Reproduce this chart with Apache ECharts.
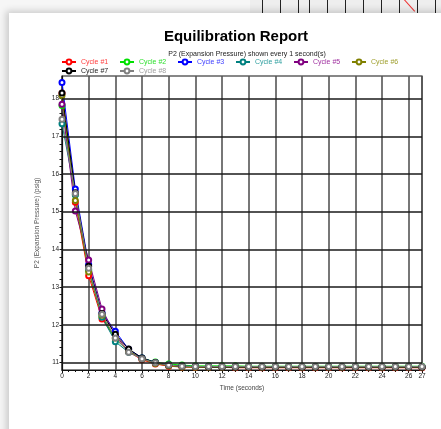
<!DOCTYPE html>
<html>
<head>
<meta charset="utf-8">
<script src="https://cdn.jsdelivr.net/npm/echarts@6/dist/echarts.min.js"></script>
<style>
  html, body { margin: 0; padding: 0; width: 441px; height: 429px; overflow: hidden; background: #f6f6f6; }
  .behind {
    position: absolute; left: 250px; top: 0; width: 191px; height: 14px;
    background-image: repeating-linear-gradient(90deg, #222 0, #222 1px, transparent 1px, transparent 18px);
    background-position: 59px 0;
    background-color: #eeeeee;
  }
  .redline { position: absolute; left: 403px; top: -1px; width: 1px; height: 17px; background: #e33; transform: rotate(-42deg); transform-origin: top left; }
  .panel {
    position: absolute; left: 9px; top: 13px; width: 440px; height: 430px;
    background: #fff; box-shadow: -3px -2px 7px rgba(0,0,0,0.18);
  }
  #chart { position: absolute; left: 0; top: 0; width: 441px; height: 429px; }
</style>
</head>
<body>
<div class="behind"></div>
<div class="redline"></div>
<div class="panel"></div>
<div id="chart"></div>
<script>
// time (s) of each sample
var times = [0, 1, 2, 3, 4, 5, 6, 7, 8, 9, 10, 11, 12, 13, 14, 15, 16, 17, 18, 19, 20, 21, 22, 23, 24, 25, 26, 27];

var cycleNames = ["Cycle #1", "Cycle #2", "Cycle #3", "Cycle #4", "Cycle #5", "Cycle #6", "Cycle #7", "Cycle #8"];
var cycleColors = ["#ff0000", "#00e000", "#0000ff", "#008080", "#800080", "#808000", "#000000", "#808080"];
var legendTextColors = ["#ff4040", "#30e030", "#4040ff", "#30a0a0", "#a030a0", "#a0a030", "#222222", "#a0a0a0"];

// P2 pressure per cycle (psig)
var cycle1 = [18.14, 15.25, 13.30, 12.15, 11.65, 11.28, 11.07, 10.96, 10.90, 10.88, 10.87, 10.87, 10.87, 10.86, 10.86, 10.86, 10.86, 10.86, 10.86, 10.86, 10.86, 10.86, 10.86, 10.86, 10.86, 10.86, 10.86, 10.86];
var cycle2 = [17.82, 15.45, 13.45, 12.22, 11.62, 11.30, 11.12, 11.01, 10.96, 10.93, 10.91, 10.91, 10.91, 10.91, 10.90, 10.90, 10.90, 10.90, 10.90, 10.90, 10.90, 10.90, 10.90, 10.90, 10.90, 10.90, 10.90, 10.90];
var cycle3 = [18.43, 15.60, 13.60, 12.32, 11.83, 11.35, 11.12, 11.00, 10.93, 10.90, 10.89, 10.89, 10.88, 10.88, 10.88, 10.88, 10.88, 10.88, 10.88, 10.88, 10.88, 10.88, 10.88, 10.88, 10.88, 10.88, 10.88, 10.88];
var cycle4 = [17.33, 15.45, 13.45, 12.20, 11.55, 11.27, 11.10, 10.99, 10.93, 10.90, 10.89, 10.88, 10.88, 10.88, 10.88, 10.88, 10.88, 10.88, 10.88, 10.88, 10.88, 10.88, 10.88, 10.88, 10.88, 10.88, 10.88, 10.88];
var cycle5 = [17.85, 15.02, 13.72, 12.42, 11.72, 11.30, 11.10, 10.98, 10.92, 10.89, 10.88, 10.88, 10.88, 10.88, 10.88, 10.88, 10.88, 10.88, 10.88, 10.88, 10.88, 10.88, 10.88, 10.88, 10.88, 10.88, 10.87, 10.87];
var cycle6 = [18.08, 15.30, 13.40, 12.25, 11.65, 11.30, 11.09, 10.97, 10.91, 10.88, 10.87, 10.87, 10.87, 10.87, 10.87, 10.87, 10.87, 10.87, 10.87, 10.87, 10.87, 10.87, 10.87, 10.87, 10.87, 10.87, 10.87, 10.87];
var cycle7 = [18.15, 15.50, 13.55, 12.30, 11.75, 11.36, 11.12, 11.00, 10.93, 10.90, 10.89, 10.88, 10.88, 10.88, 10.88, 10.88, 10.88, 10.88, 10.88, 10.88, 10.88, 10.88, 10.88, 10.88, 10.88, 10.88, 10.88, 10.88];
var cycle8 = [17.45, 15.48, 13.50, 12.28, 11.65, 11.27, 11.10, 10.99, 10.93, 10.90, 10.89, 10.89, 10.89, 10.89, 10.89, 10.89, 10.89, 10.89, 10.89, 10.89, 10.89, 10.89, 10.89, 10.89, 10.89, 10.89, 10.89, 10.89];

// major horizontal grid lines
var yGridValues = [11, 12, 13, 14, 15, 16, 17, 18];

var allCycles = [cycle1, cycle2, cycle3, cycle4, cycle5, cycle6, cycle7, cycle8];

var chart = echarts.init(document.getElementById("chart"));

var series = allCycles.map(function (vals, i) {
  return {
    name: cycleNames[i],
    type: "line",
    symbol: "emptyCircle",
    symbolSize: 5,
    showAllSymbol: true,
    color: cycleColors[i],
    lineStyle: { width: 1 },
    itemStyle: { borderWidth: 1 },
    emphasis: { disabled: true },
    animation: false,
    data: times.map(function (t, j) { return [t, vals[j]]; }),
    z: 3
  };
});

// horizontal grid lines (y axis ticks run every 0.2 so split lines are drawn here)
series.push({
  type: "line",
  data: [],
  silent: true,
  z: 1,
  markLine: {
    silent: true,
    symbol: ["none", "none"],
    label: { show: false },
    animation: false,
    lineStyle: { color: "#1a1a1a", width: 1.6, type: "solid" },
    data: yGridValues.map(function (v) { return { yAxis: v }; })
  }
});

var option = {
  animation: false,
  title: [
    {
      text: "Equilibration Report",
      left: 231, top: 24, textAlign: "center",
      textStyle: { fontFamily: "Liberation Sans", fontSize: 15, fontWeight: "bold", color: "#000" }
    },
    {
      text: "P2 (Expansion Pressure) shown every 1 second(s)",
      left: 242, top: 46, textAlign: "center",
      textStyle: { fontFamily: "Liberation Sans", fontSize: 7, fontWeight: "normal", color: "#222" }
    }
  ],
  legend: {
    data: cycleNames.map(function (n, i) {
      return { name: n, textStyle: { color: legendTextColors[i] } };
    }),
    left: 61, top: 58, width: 350,
    itemWidth: 14, itemHeight: 6, itemGap: 1,
    padding: 0,
    textStyle: { fontFamily: "Liberation Sans", fontSize: 7, width: 37, lineHeight: 8 }
  },
  grid: {
    left: 62, right: 19, top: 76, bottom: 59,
    show: true, borderColor: "#111", borderWidth: 1.2
  },
  xAxis: {
    type: "value",
    min: 0, max: 27, interval: 2,
    name: "Time (seconds)", nameLocation: "middle", nameGap: 15,
    nameTextStyle: { fontFamily: "Liberation Sans", fontSize: 6.5, color: "#444" },
    axisLine: { lineStyle: { color: "#111", width: 1.2 } },
    axisTick: { length: 3, lineStyle: { color: "#111" } },
    minorTick: { show: true, splitNumber: 4, length: 2, lineStyle: { color: "#111" } },
    axisLabel: { fontFamily: "Liberation Sans", fontSize: 6.5, color: "#222", margin: 3 },
    splitLine: { show: true, lineStyle: { color: "#555", width: 1.6 } }
  },
  yAxis: {
    type: "value",
    min: 10.8, max: 18.6, interval: 0.2,
    name: "P2 (Expansion Pressure) (psig)", nameLocation: "middle", nameGap: 15,
    nameTextStyle: { fontFamily: "Liberation Sans", fontSize: 6.5, color: "#555" },
    axisLine: { show: true, lineStyle: { color: "#111", width: 1.2 } },
    axisTick: { length: 2.5, lineStyle: { color: "#111" } },
    axisLabel: {
      fontFamily: "Liberation Sans", fontSize: 6.5, color: "#222", margin: 3,
      showMinLabel: false, showMaxLabel: false,
      formatter: function (v) {
        var r = Math.round(v);
        return Math.abs(v - r) < 1e-6 ? String(r) : "";
      }
    },
    splitLine: { show: false }
  },
  series: series
};

chart.setOption(option);
</script>
</body>
</html>
